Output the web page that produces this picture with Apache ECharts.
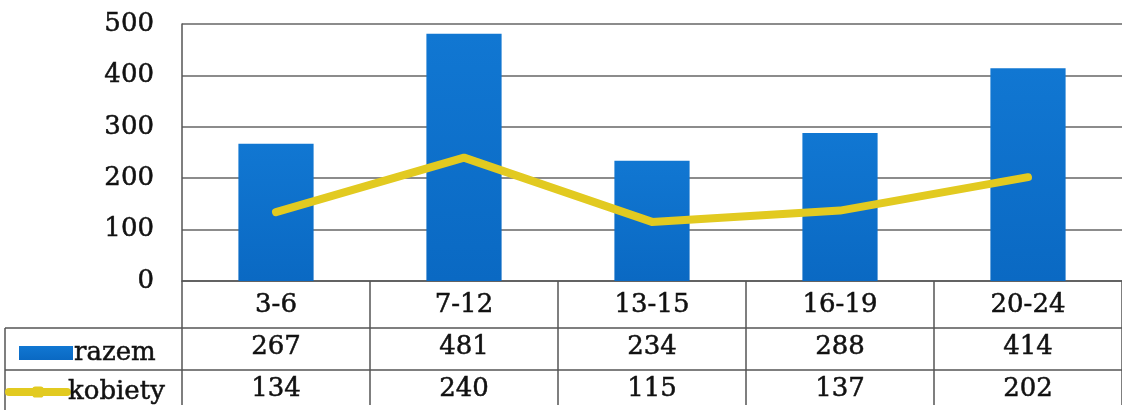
<!DOCTYPE html>
<html>
<head>
<meta charset="utf-8">
<script src="https://cdn.jsdelivr.net/npm/echarts@6/dist/echarts.min.js"></script>
<style>
html,body{margin:0;padding:0;background:#fff;}
#c{width:1122px;height:410px;}
</style>
</head>
<body>
<div id="c"></div>
<script>
var categories = ['3-6', '7-12', '13-15', '16-19', '20-24'];
var razem = [267, 481, 234, 288, 414];
var kobiety = [134, 240, 115, 137, 202];
var yTicks = [0, 100, 200, 300, 400, 500];

var W = 1122, H = 410;
var gridLeft = 182, gridTop = 24, gridBottom = 124;
var rowH = 42;
var lineCol = '#555';
var fontFam = 'DejaVu Serif';
var fontSize = 26;
var textCol = '#111';
var yellow = '#E2CA20';

var chart = echarts.init(document.getElementById('c'));
var axisY = H - gridBottom;

function legendFor(name, icon, rowIndex, left, w, dy) {
  var item = { name: name };
  if (icon) item.icon = icon;
  return {
    orient: 'horizontal',
    left: left,
    top: axisY + rowH * rowIndex + rowH / 2 - 14 + dy,
    itemGap: 0,
    itemWidth: w,
    itemHeight: 14,
    lineStyle: { width: 8, color: yellow, cap: 'round' },
    textStyle: { fontFamily: fontFam, fontSize: fontSize, color: textCol, lineHeight: 30, padding: [0, 0, 0, -4], textBorderColor: textCol, textBorderWidth: 0.5 },
    data: [item]
  };
}

chart.setOption({
  animation: false,
  backgroundColor: '#fff',
  grid: { left: gridLeft, right: 0, top: gridTop, bottom: gridBottom, containLabel: false },
  legend: [
    legendFor('razem', 'rect', 1, 14, 54, -2),
    legendFor('kobiety', null, 2, 0, 58, -5)
  ],
  xAxis: {
    type: 'category',
    data: categories,
    boundaryGap: true,
    axisLine: { show: true, lineStyle: { color: lineCol, width: 1.5 } },
    axisTick: { show: true, interval: 0, alignWithLabel: false, length: gridBottom, lineStyle: { color: lineCol, width: 1.5 } },
    axisLabel: {
      interval: 0,
      margin: 3,
      fontFamily: fontFam,
      fontSize: fontSize,
      color: textCol,
      textBorderColor: textCol,
      textBorderWidth: 0.5,
      lineHeight: rowH,
      formatter: function (v, i) { return v + '\n' + razem[i] + '\n' + kobiety[i]; }
    },
    splitLine: { show: false }
  },
  yAxis: {
    type: 'value',
    min: yTicks[0],
    max: yTicks[yTicks.length - 1],
    interval: yTicks[1] - yTicks[0],
    axisLine: { show: true, lineStyle: { color: lineCol, width: 1.5 } },
    axisTick: { show: false },
    axisLabel: { margin: 28, fontFamily: fontFam, fontSize: fontSize, color: textCol, textBorderColor: textCol, textBorderWidth: 0.5 },
    splitLine: { show: true, lineStyle: { color: '#666', width: 1.5 } }
  },
  series: [
    {
      name: 'razem',
      type: 'bar',
      data: razem,
      barWidth: '40%',
      itemStyle: {
        color: new echarts.graphic.LinearGradient(0, 0, 0, 1, [
          { offset: 0, color: '#1177D2' },
          { offset: 1, color: '#0A69C3' }
        ])
      }
    },
    {
      name: 'kobiety',
      type: 'line',
      data: kobiety,
      symbol: 'roundRect',
      symbolSize: 14,
      showSymbol: false,
      lineStyle: { color: yellow, width: 8, cap: 'round', join: 'round' },
      itemStyle: { color: yellow },
      z: 5
    }
  ],
  graphic: [
    { type: 'line', shape: { x1: 5, y1: axisY + rowH, x2: W, y2: axisY + rowH }, style: { stroke: lineCol, lineWidth: 1.5 } },
    { type: 'line', shape: { x1: 5, y1: axisY + 2 * rowH, x2: W, y2: axisY + 2 * rowH }, style: { stroke: lineCol, lineWidth: 1.5 } },
    { type: 'line', shape: { x1: 5, y1: axisY + rowH, x2: 5, y2: H }, style: { stroke: lineCol, lineWidth: 1.5 } }
  ]
});
</script>
</body>
</html>
